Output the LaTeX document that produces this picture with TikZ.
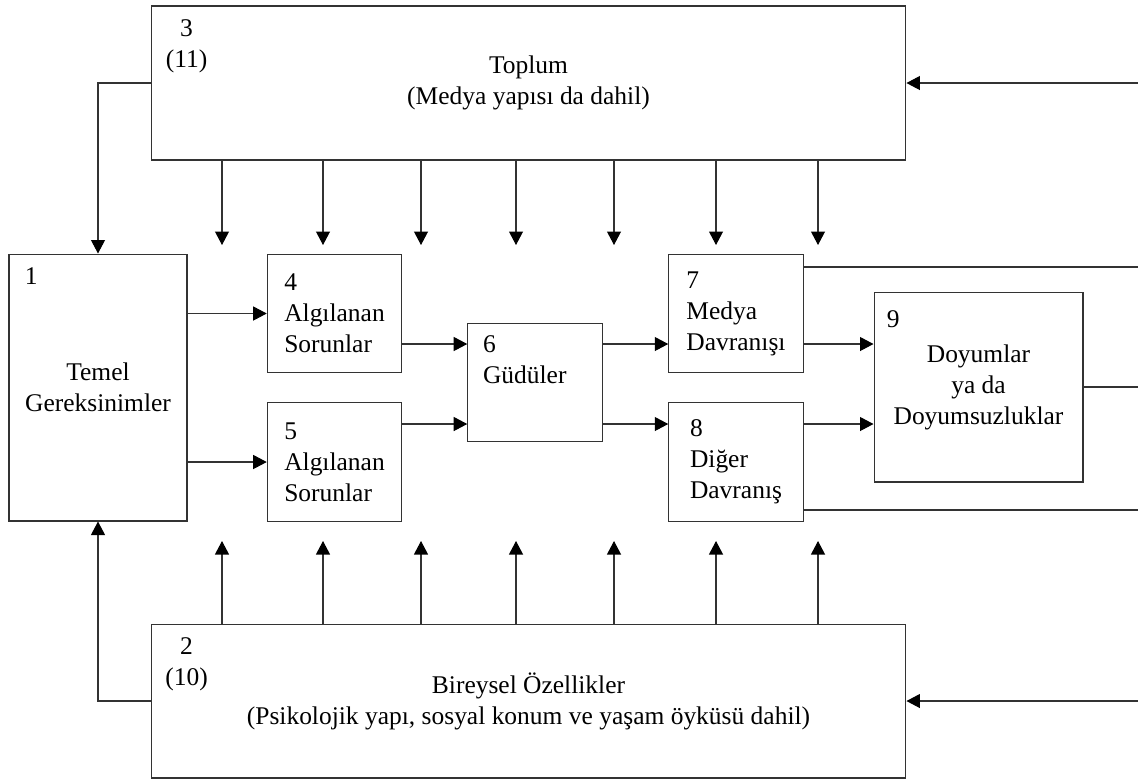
\documentclass[tikz,border=0pt]{standalone}
\usepackage{fontspec}
\setmainfont{Liberation Serif}
\usepackage{tikz}
\usetikzlibrary{arrows.meta,positioning}

\begin{document}
\begin{tikzpicture}[
  x=0.02cm, y=-0.02cm,
  every node/.style={font=\fontsize{14.5}{17.6}\selectfont, anchor=center},
  box/.style={draw=black!80, line width=0.6pt, inner sep=0pt, align=center},
  kbox/.style={box, align=left, minimum width=2.69cm, minimum height=2.37cm},
  num/.style={inner sep=0pt, align=center},
  arr/.style={draw=black!80, line width=0.6pt, -{Triangle[length=2.7mm, width=2.8mm, color=black]}},
  ln/.style={draw=black!80, line width=0.6pt}
]
  \useasboundingbox (0,0) rectangle (1138,779);

  % --- Kutular ---
  \node[box, minimum width=15.1cm, minimum height=3.08cm] (toplum) at (528.5,83)
    {Toplum\\(Medya yapısı da dahil)};
  \node[box, minimum width=15.1cm, minimum height=3.08cm] (bireysel) at (528.5,701)
    {Bireysel Özellikler\\(Psikolojik yapı, sosyal konum ve yaşam öyküsü dahil)};
  \node[box, minimum width=3.56cm, minimum height=5.34cm] (temel) at (98,387.5)
    {Temel\\Gereksinimler};

  \node[kbox] (sorun1) at (334.5,313.5) {4\\Algılanan\\Sorunlar};
  \node[kbox] (sorun2) at (334.5,462)   {5\\Algılanan\\Sorunlar};
  \node[kbox, text width=2.08cm] (gudu) at (535,382.5) {6\\Güdüler\\[1mm]\strut};
  \node[kbox] (medya) at (736,313.5) {7\\Medya\\Davranışı};
  \node[kbox] (diger) at (736,462)   {8\\Diğer\\Davranış};
  \node[box, minimum width=4.18cm, minimum height=3.8cm] (doyum) at (978.5,387)
    {Doyumlar\\ya da\\Doyumsuzluklar};

  % Numaralar
  \node[num] (n3) at ([shift={(36,41)}]toplum.north west) {3\\(11)};
  \node[num] (n2) at ([shift={(36,41)}]bireysel.north west) {2\\(10)};
  \node[num, anchor=base west] (n1) at ([shift={(16,31)}]temel.north west) {1};
  \node[num, anchor=base west] (n9) at ([shift={(13,36)}]doyum.north west) {9};

  % --- Yardımcı noktalar ---
  \coordinate (R) at (1138,0);
  \coordinate (g1) at (0,344);
  \coordinate (g2) at (0,424);
  \coordinate (h1) at (0,267);
  \coordinate (h2) at (0,510);

  % Toplum ve bireysel özelliklerden gelen oklar
  \foreach \x [count=\i] in {222,323,421,516,614,716,818}{
    \coordinate (d\i) at (\x,245);
    \coordinate (u\i) at (\x,541);
    \draw[arr] (toplum.south -| d\i) -- (d\i);
    \draw[arr] (bireysel.north -| u\i) -- (u\i);
  }
  \draw[arr] (toplum.west) -| (temel.north);
  \draw[arr] (bireysel.west) -| (temel.south);
  \draw[arr] (toplum.east -| R) -- (toplum.east);
  \draw[arr] (bireysel.east -| R) -- (bireysel.east);

  % Ana akış
  \draw[arr] (temel.east |- sorun1) -- (sorun1.west);
  \draw[arr] (temel.east |- sorun2) -- (sorun2.west);
  \draw[arr] (sorun1.east |- g1) -- (gudu.west |- g1);
  \draw[arr] (sorun2.east |- g2) -- (gudu.west |- g2);
  \draw[arr] (gudu.east |- g1) -- (medya.west |- g1);
  \draw[arr] (gudu.east |- g2) -- (diger.west |- g2);
  \draw[arr] (medya.east |- g1) -- (doyum.west |- g1);
  \draw[arr] (diger.east |- g2) -- (doyum.west |- g2);

  % Geri besleme çizgileri
  \draw[ln] (medya.east |- h1) -- (R |- h1);
  \draw[ln] (diger.east |- h2) -- (R |- h2);
  \draw[ln] (doyum.east) -- (doyum.east -| R);
\end{tikzpicture}
\end{document}
